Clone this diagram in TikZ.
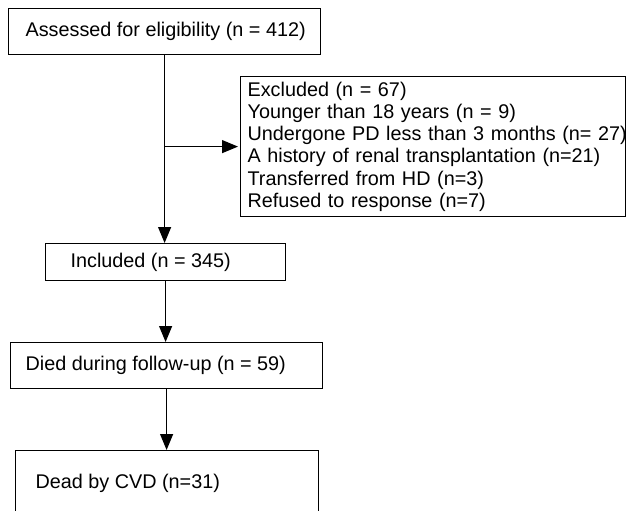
\documentclass[tikz,border=0pt]{standalone}
\usepackage{fontspec}
\setmainfont{Liberation Sans}
\usetikzlibrary{arrows.meta}
\begin{document}
\begin{tikzpicture}[x=1pt,y=-1pt,
  box/.style={draw,line width=1.2pt,anchor=north west,inner ysep=0pt,font=\fontsize{19.8}{22.2}\selectfont},
  arr/.style={line width=1.2pt,-{Triangle[length=16pt,width=13pt]}}]
\useasboundingbox (0,0) rectangle (627,511);
\node[box,minimum width=312pt,minimum height=46pt,inner xsep=17pt] (assess) at (8,8)
  {\makebox[278pt][l]{Assessed for eligibility (n = 412)}};
\node[box,minimum height=140pt,inner xsep=7pt,text width=371pt,align=left] (excl) at (240,76)
  {\mbox{Excluded (n = 67)}\\
   \mbox{Younger than 18 years (n = 9)}\\
   \mbox{Undergone PD less than 3 months (n= 27)}\\
   \mbox{A history of renal transplantation (n=21)}\\
   \mbox{Transferred from HD (n=3)}\\
   \mbox{Refused to response (n=7)}};
\node[box,minimum width=240pt,minimum height=37pt,inner xsep=25pt] (incl) at (45,243)
  {\makebox[190pt][l]{Included (n = 345)}};
\node[box,minimum width=312pt,minimum height=46pt,inner xsep=15pt] (died) at (10,342)
  {\makebox[282pt][l]{Died during follow-up (n = 59)}};
\node[box,minimum width=303pt,minimum height=66pt,inner xsep=20pt] (dead) at (15,450)
  {\makebox[263pt][l]{Dead by CVD (n=31)}};
\draw[arr] (assess.south) -- (assess.south |- incl.north);
\draw[arr,shorten >=2pt] (assess.south |- excl.west) -- (excl.west);
\draw[arr] (incl.south) -- (incl.south |- died.north);
\draw[arr] (died.south) -- (died.south |- dead.north);
\end{tikzpicture}
\end{document}
